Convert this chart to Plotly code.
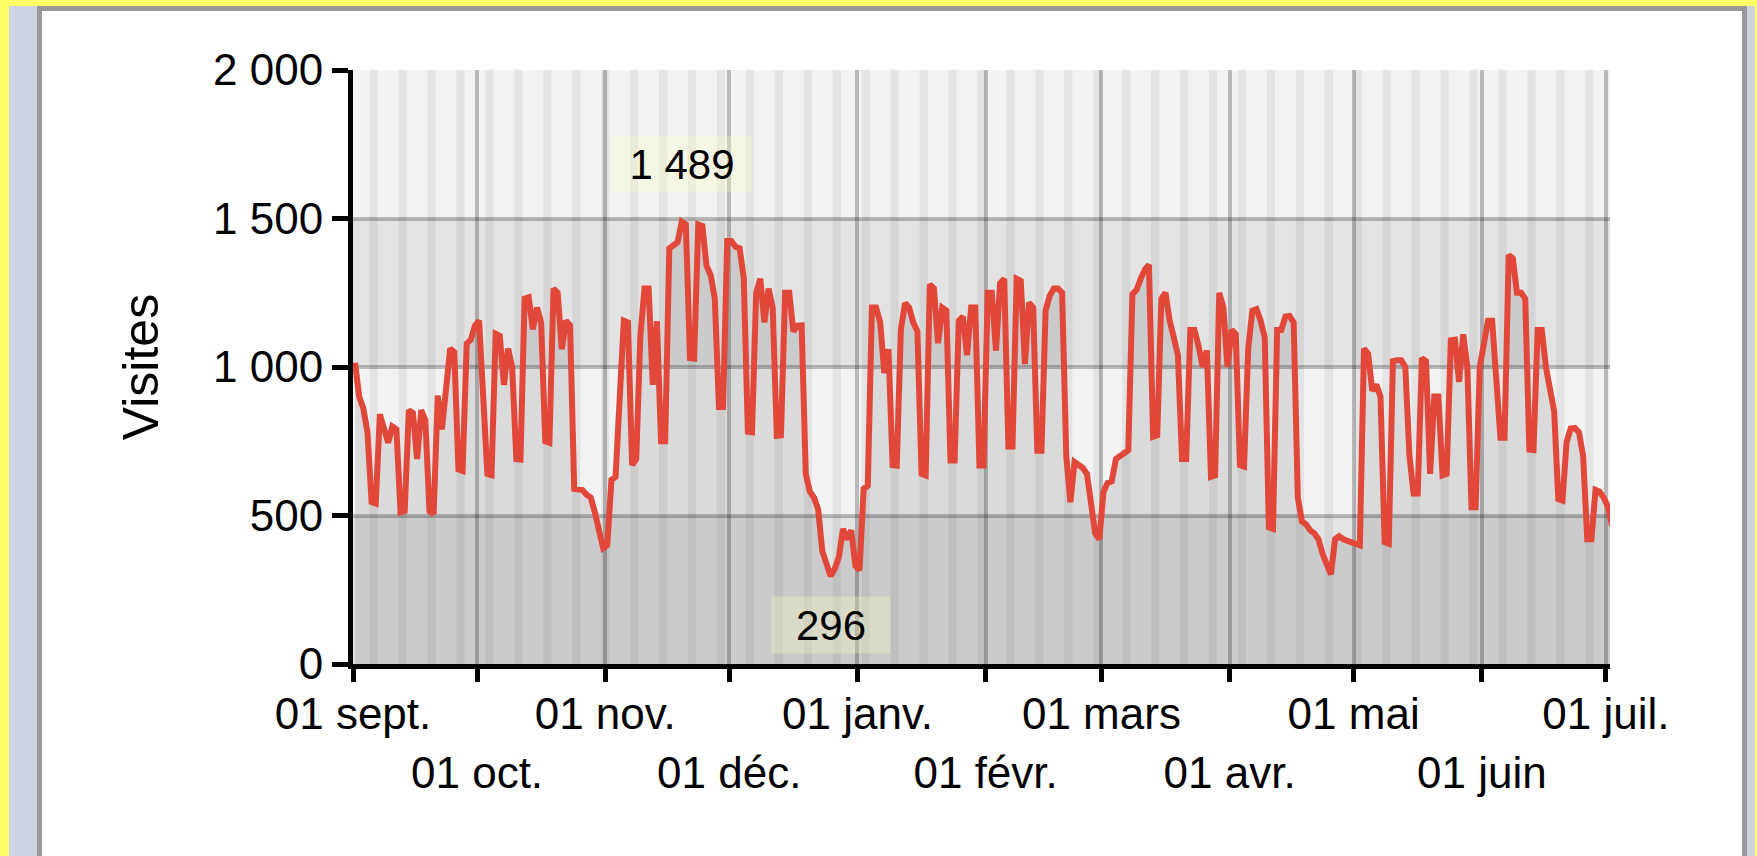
import pandas as pd
import plotly.graph_objects as go

# ---------------- data ----------------
START_DATE = "2009-09-01"
END_DATE = "2010-07-02"

VISITS = [
    # sept.
    1014, 900, 860, 780, 545, 540,
    841, 800, 745, 800, 790, 511, 515,
    855, 845, 690, 855, 820, 515, 505,
    904, 790, 935, 1062, 1050, 655, 650,
    1079, 1092, 1139,
    # oct.
    1156, 900, 640, 636,
    1112, 1105, 940, 1062, 1000, 690, 688,
    1230, 1235, 1127, 1200, 1150, 750, 745,
    1264, 1250, 1060, 1156, 1140, 590, 586,
    586, 570, 560, 510, 450, 390,
    # nov.
    400,
    620, 630, 950, 1156, 1150, 670, 690,
    1106, 1264, 1264, 940, 1154, 750, 750,
    1400, 1410, 1420, 1489, 1480, 1030, 1028,
    1480, 1475, 1340, 1310, 1230, 865, 865,
    1424,
    # déc.
    1424, 1405, 1400, 1300, 782, 780,
    1250, 1297, 1150, 1264, 1200, 768, 770,
    1250, 1250, 1120, 1139, 1140, 640, 580,
    560, 520, 380, 330, 296, 320, 360,
    455, 420, 450, 330,
    # janv.
    316, 590, 600,
    1200, 1200, 1150, 980, 1060, 670, 668,
    1125, 1215, 1200, 1150, 1120, 640, 635,
    1278, 1265, 1080, 1200, 1190, 685, 685,
    1156, 1170, 1040, 1200, 1200, 668, 668,
    # févr.
    1250, 1250, 1055, 1282, 1297, 732, 732,
    1297, 1290, 1010, 1217, 1200, 718, 718,
    1190, 1240, 1264, 1264, 1250, 700, 545,
    680, 670, 660, 640, 540, 440, 420,
    # mars
    580, 610, 615, 690, 700, 705, 720,
    1245, 1260, 1297, 1328, 1344, 765, 770,
    1230, 1250, 1156, 1100, 1040, 690, 690,
    1125, 1125, 1070, 1000, 1056, 630, 635,
    1250, 1200, 1000,
    # avr.
    1125, 1110, 670, 665,
    1062, 1190, 1195, 1156, 1100, 460, 455,
    1125, 1125, 1170, 1172, 1150, 560, 480,
    470, 450, 440, 420, 370, 335, 302,
    420, 430, 420, 415, 410,
    # mai
    405, 400,
    1062, 1045, 920, 940, 900, 410, 405,
    1020, 1023, 1023, 1000, 700, 574, 574,
    1030, 1020, 640, 901, 901, 635, 640,
    1090, 1092, 950, 1110, 1000, 528, 528,
    1000,
    # juin
    1092, 1156, 1156, 980, 762, 762,
    1377, 1365, 1250, 1250, 1230, 722, 720,
    1125, 1125, 1000, 930, 850, 555, 550,
    747, 793, 795, 780, 700, 420, 420,
    586, 580, 560,
    # juil.
    530, 465,
]

MONTH_TICKS = ["2009-09-01", "2009-10-01", "2009-11-01", "2009-12-01",
               "2010-01-01", "2010-02-01", "2010-03-01", "2010-04-01",
               "2010-05-01", "2010-06-01", "2010-07-01"]
MONTH_LABELS = ["01 sept.", "01 oct.", "01 nov.", "01 déc.", "01 janv.",
                "01 févr.", "01 mars", "01 avr.", "01 mai", "01 juin",
                "01 juil."]

Y_TICKS = [0, 500, 1000, 1500, 2000]
Y_LABELS = ["0", "500", "1 000", "1 500", "2 000"]
Y_TITLE = "Visites"

# ---------------- layout constants ----------------
W, H = 1757, 856
PL, PR, PT, PB = 353, 1610, 70, 664
FONT = "Liberation Sans, Arial, sans-serif"


def px_x(p):
    return (p - PL) / (PR - PL)


def px_y(p):
    return (PB - p) / (PB - PT)


dates = pd.date_range(START_DATE + " 12:00", periods=len(VISITS), freq="D")

fig = go.Figure()
fig.add_trace(go.Scatter(
    x=dates, y=VISITS, mode="lines",
    line=dict(color="#e2483a", width=6),
    fill="tozeroy", fillcolor="rgba(0,0,0,0.10)",
    hoverinfo="skip", showlegend=False,
))
# carrier trace for the second row of month labels
fig.add_trace(go.Scatter(x=[dates[0]], y=[None], xaxis="x2", mode="lines",
                         hoverinfo="skip", showlegend=False))

shapes = []
# frame
for (x0, y0, x1, y1, c) in [(9, 6, 1755, 856, "#cdd3e1"),
                            (37, 6, 1747, 856, "#999999"),
                            (42, 11, 1742, 856, "#ffffff")]:
    shapes.append(dict(type="rect", xref="paper", yref="paper",
                       x0=px_x(x0), x1=px_x(x1), y0=px_y(y1), y1=px_y(y0),
                       fillcolor=c, line=dict(width=0), layer="below"))
# horizontal bands
band_cols = ["#e3e3e3", "#f3f3f3", "#e3e3e3", "#f3f3f3"]
for i, c in enumerate(band_cols):
    shapes.append(dict(type="rect", xref="paper", yref="y",
                       x0=0, x1=1, y0=Y_TICKS[i], y1=Y_TICKS[i + 1],
                       fillcolor=c, line=dict(width=0), layer="below"))
# weekend stripes
day_starts = dates.normalize()
end = pd.Timestamp(END_DATE)
for d in day_starts[day_starts.dayofweek == 5]:
    x1 = min(d + pd.Timedelta(days=2), end)
    shapes.append(dict(type="rect", xref="x", yref="paper",
                       x0=d, x1=x1, y0=0, y1=1,
                       fillcolor="rgba(0,0,0,0.06)", line=dict(width=0),
                       layer="below"))

# tick text: alternate rows (row 1 on x, row 2 on x2)
row1_text = [lab if i % 2 == 0 else "" for i, lab in enumerate(MONTH_LABELS)]
row2_vals = [v for i, v in enumerate(MONTH_TICKS) if i % 2 == 1]
row2_text = [lab for i, lab in enumerate(MONTH_LABELS) if i % 2 == 1]

imax = max(range(len(VISITS)), key=lambda i: VISITS[i])
imin = min(range(len(VISITS)), key=lambda i: VISITS[i])


def fmt(v):
    return f"{v:,}".replace(",", " ")


annotations = [
    dict(x=dates[imax], y=VISITS[imax], xref="x", yref="y", text=fmt(VISITS[imax]),
         showarrow=False, yanchor="bottom", yshift=29, width=128, height=46,
         borderpad=5, bgcolor="rgba(255,255,200,0.30)",
         font=dict(family=FONT, size=42, color="black")),
    dict(x=dates[imin], y=VISITS[imin], xref="x", yref="y", text=fmt(VISITS[imin]),
         showarrow=False, yanchor="top", yshift=-20, width=108, height=46,
         borderpad=5, bgcolor="rgba(255,255,200,0.30)",
         font=dict(family=FONT, size=42, color="black")),
]

tickfont = dict(family=FONT, size=44, color="black")

fig.update_layout(
    width=W, height=H, autosize=False,
    margin=dict(l=PL, r=W - PR, t=PT, b=H - PB, pad=0),
    paper_bgcolor="#ffff66", plot_bgcolor="rgba(0,0,0,0)",
    font=dict(family=FONT, size=44, color="black"),
    shapes=shapes, annotations=annotations, showlegend=False,
    xaxis=dict(
        type="date", range=[START_DATE, END_DATE],
        tickvals=MONTH_TICKS, ticktext=row1_text, tickangle=0,
        ticks="outside", ticklen=13, tickwidth=5, tickcolor="black",
        showline=True, linecolor="black", linewidth=5,
        showgrid=True, gridcolor="rgba(0,0,0,0.24)", gridwidth=4,
        zeroline=False, tickfont=tickfont, ticklabelstandoff=-6,
        fixedrange=True,
    ),
    xaxis2=dict(
        type="date", range=[START_DATE, END_DATE], overlaying="x",
        anchor="y", side="bottom",
        tickvals=row2_vals, ticktext=row2_text, tickangle=0,
        ticks="", showline=False, showgrid=False, zeroline=False,
        tickfont=tickfont, ticklabelstandoff=79, fixedrange=True,
    ),
    yaxis=dict(
        range=[0, 2000], tickvals=Y_TICKS, ticktext=Y_LABELS,
        ticks="outside", ticklen=16, tickwidth=5, tickcolor="black",
        showline=True, linecolor="black", linewidth=5,
        showgrid=True, gridcolor="rgba(0,0,0,0.24)", gridwidth=4,
        zeroline=False, tickfont=tickfont,
        title=dict(text=Y_TITLE, font=dict(family=FONT, size=50, color="black"),
                   standoff=40),
        fixedrange=True,
    ),
)

fig.write_html("out.html", config={"displayModeBar": False},
               post_script="document.body.style.margin='0px';document.body.style.overflow='hidden';")
